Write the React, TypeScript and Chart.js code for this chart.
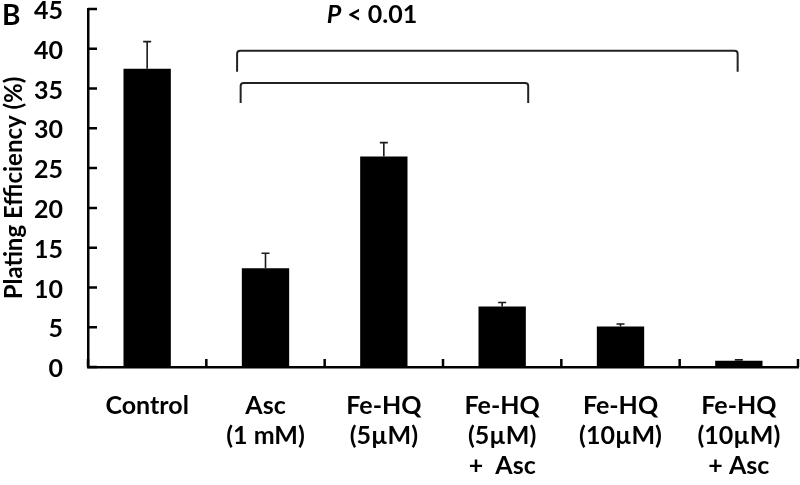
import React, { useEffect, useRef } from "react";
import { Chart, registerables } from "chart.js";

Chart.register(...registerables);

// ---- data ----
const categories: string[][] = [
  ["Control"],
  ["Asc", "(1 mM)"],
  ["Fe-HQ", "(5µM)"],
  ["Fe-HQ", "(5µM)", "+  Asc"],
  ["Fe-HQ", "(10µM)"],
  ["Fe-HQ", "(10µM)", "+ Asc"],
];
const efficiency = [37.5, 12.4, 26.45, 7.6, 5.1, 0.8];
const errorUp = [3.4, 1.9, 1.75, 0.5, 0.3, 0.1];
const yMin = 0;
const yMax = 45;
const yStep = 5;
const yTitle = "Plating Efficiency (%)";
const panelLabel = "B";
const pItalic = "P";
const pRest = " < 0.01";
// significance brackets, in category-index / value units
const bracketStart = [0.76, 0.79];
const bracketEnd = [4.99, 3.22];
const bracketTop = [39.75, 35.7];
const bracketFoot = [37.1, 33.2];
const pLabelAt = { x: 1.9, y: 44.3 };

const FONT = "Lato";

const extrasPlugin = {
  id: "extras",
  afterDraw(chart: any) {
    const { ctx, chartArea } = chart;
    const xs = chart.scales.x;
    const ys = chart.scales.y;
    const step = xs.getPixelForValue(1) - xs.getPixelForValue(0);
    const xAt = (v: number) => xs.getPixelForValue(0) + v * step;
    ctx.save();

    // error bars
    ctx.strokeStyle = "#1a1a1a";
    ctx.lineWidth = 1.6;
    efficiency.forEach((v, i) => {
      const cx = xs.getPixelForValue(i);
      const y0 = ys.getPixelForValue(v);
      const y1 = ys.getPixelForValue(v + errorUp[i]);
      ctx.beginPath();
      ctx.moveTo(cx, y0);
      ctx.lineTo(cx, y1);
      ctx.moveTo(cx - 4, y1);
      ctx.lineTo(cx + 4, y1);
      ctx.stroke();
    });

    // inner tick marks
    ctx.strokeStyle = "#000";
    ctx.lineWidth = 2.5;
    ctx.beginPath();
    for (let v = yMin; v <= yMax; v += yStep) {
      const y = ys.getPixelForValue(v);
      ctx.moveTo(chartArea.left, y);
      ctx.lineTo(chartArea.left + 9, y);
    }
    for (let i = 0; i <= categories.length; i++) {
      const x = xAt(i - 0.5);
      ctx.moveTo(x, chartArea.bottom);
      ctx.lineTo(x, chartArea.bottom - 8);
    }
    ctx.stroke();

    // brackets
    ctx.strokeStyle = "#222";
    ctx.lineWidth = 2;
    ctx.lineJoin = "round";
    bracketStart.forEach((s, k) => {
      const x0 = xAt(s);
      const x1 = xAt(bracketEnd[k]);
      const yt = ys.getPixelForValue(bracketTop[k]);
      const yf = ys.getPixelForValue(bracketFoot[k]);
      ctx.beginPath();
      ctx.moveTo(x0, yf);
      ctx.arcTo(x0, yt, x0 + 4, yt, 3);
      ctx.arcTo(x1, yt, x1, yf, 3);
      ctx.lineTo(x1, yf);
      ctx.stroke();
    });

    // P < 0.01
    ctx.fillStyle = "#000";
    ctx.textBaseline = "middle";
    const fItalic = `italic bold 25px ${FONT}`;
    const fNormal = `bold 25px ${FONT}`;
    ctx.font = fItalic;
    const wP = ctx.measureText(pItalic).width;
    ctx.font = fNormal;
    const wR = ctx.measureText(pRest).width;
    const cx = xAt(pLabelAt.x);
    const cy = ys.getPixelForValue(pLabelAt.y);
    const x = cx - (wP + wR) / 2;
    ctx.textAlign = "left";
    ctx.font = fItalic;
    ctx.fillText(pItalic, x, cy);
    ctx.font = fNormal;
    ctx.fillText(pRest, x + wP, cy);

    // panel label
    ctx.font = `bold 28px ${FONT}`;
    ctx.textBaseline = "alphabetic";
    ctx.fillText(panelLabel, 2, 25);
    ctx.restore();
  },
};

export default function App() {
  const ref = useRef<HTMLCanvasElement>(null);
  useEffect(() => {
    if (!ref.current) return;
    const chart = new Chart(ref.current, {
      type: "bar",
      data: {
        labels: categories,
        datasets: [
          {
            data: efficiency,
            backgroundColor: "#000",
            borderWidth: 0,
            barPercentage: 0.4,
            categoryPercentage: 1,
          },
        ],
      },
      options: {
        responsive: false,
        animation: false,
        layout: { padding: { left: 0, top: 9, right: 2, bottom: 0 } },
        plugins: { legend: { display: false }, tooltip: { enabled: false } },
        scales: {
          x: {
            grid: { display: false, drawTicks: false },
            border: { display: true, color: "#000", width: 2.5 },
            ticks: {
              color: "#000",
              font: { family: FONT, weight: "bold", size: 25, lineHeight: 1.2 },
              padding: 24,
              autoSkip: false,
              maxRotation: 0,
            },
            afterFit(scale: any) {
              scale.height = 118;
              scale.paddingLeft = 0;
              scale.paddingRight = 0;
            },
          },
          y: {
            min: yMin,
            max: yMax,
            grid: { display: false, drawTicks: false },
            border: { display: true, color: "#000", width: 2.5 },
            ticks: {
              stepSize: yStep,
              color: "#000",
              font: { family: FONT, weight: "bold", size: 25 },
              padding: 25,
              labelOffset: 2,
            },
            title: {
              display: true,
              text: yTitle,
              color: "#000",
              font: { family: FONT, weight: "bold", size: 24, lineHeight: 1.2 },
              padding: { top: 0, bottom: 0 },
            },
            afterFit(scale: any) {
              scale.width = 88;
              scale.paddingTop = 0;
              scale.paddingBottom = 0;
            },
          },
        },
      },
      plugins: [extrasPlugin],
    } as any);
    return () => chart.destroy();
  }, []);
  return (
    <div style={{ position: "fixed", left: 0, top: 0, width: 800, height: 485, background: "#fff" }}>
      <canvas ref={ref} width={800} height={485} style={{ display: "block" }} />
    </div>
  );
}
